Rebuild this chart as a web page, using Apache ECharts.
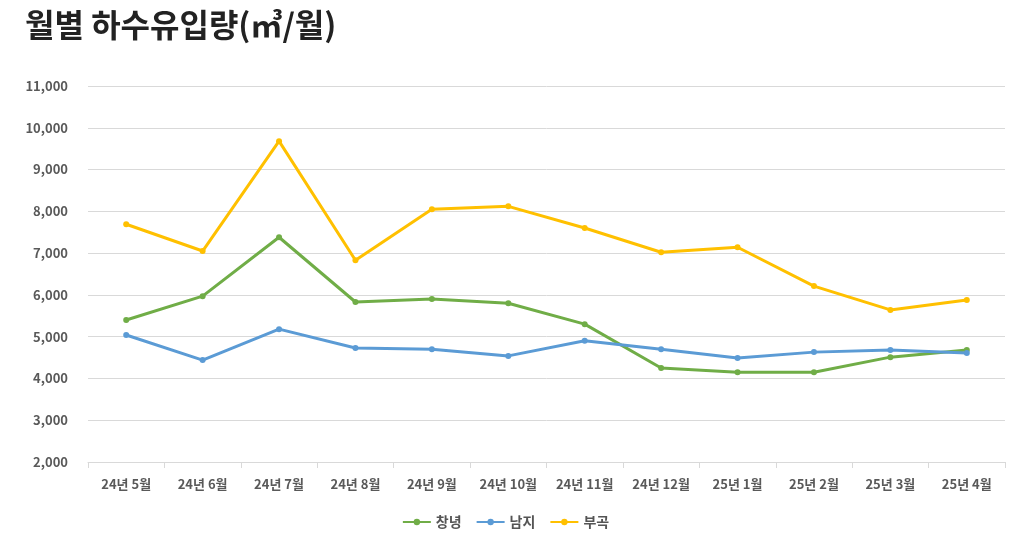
<!DOCTYPE html>
<html><head><meta charset="utf-8">
<script src="https://cdn.jsdelivr.net/npm/echarts@6/dist/echarts.min.js"></script>
<style>body{margin:0}#main{width:1011px;height:546px}</style>
</head><body><div id="main"></div>
<script>
var months = ['24년 5월','24년 6월','24년 7월','24년 8월','24년 9월','24년 10월','24년 11월','24년 12월','25년 1월','25년 2월','25년 3월','25년 4월'];
var changnyeong = [5400, 5970, 7380, 5830, 5900, 5800, 5300, 4250, 4150, 4150, 4510, 4680];
var namji = [5040, 4440, 5180, 4730, 4700, 4540, 4900, 4700, 4490, 4630, 4680, 4610];
var bugok = [7690, 7050, 9680, 6830, 8050, 8120, 7600, 7020, 7140, 6210, 5640, 5880];

var myChart = echarts.init(document.getElementById('main'));
var font = 'Noto Sans CJK KR';
function line(name, data, color) {
    return {
        name: name, type: 'line', data: data, symbol: 'circle', symbolSize: 6,
        lineStyle: {color: color, width: 3}, itemStyle: {color: color}
    };
}
var option = {
    textStyle: {fontFamily: font},
    title: {
        text: '월별 하수유입량(㎥/월)', left: 20, top: 4,
        textStyle: {fontSize: 32, fontWeight: 'bold', color: '#222', fontFamily: font}
    },
    legend: {
        bottom: 12, itemWidth: 28, itemHeight: 8, itemGap: 14,
        textStyle: {fontSize: 14, color: '#555', fontWeight: 'bold'},
        data: ['창녕', '남지', '부곡']
    },
    grid: {left: 88, right: 6, top: 86, bottom: 84},
    xAxis: {
        type: 'category', data: months,
        axisLine: {lineStyle: {color: '#d9d9d9'}},
        axisTick: {show: true, length: 6, lineStyle: {color: '#d9d9d9'}},
        axisLabel: {color: '#595959', fontSize: 13, fontWeight: 'bold', margin: 16}
    },
    yAxis: {
        type: 'value', min: 2000, max: 11000, interval: 1000,
        axisLine: {show: false}, axisTick: {show: false},
        splitLine: {lineStyle: {color: '#d9d9d9'}},
        axisLabel: {
            color: '#595959', fontSize: 13, fontWeight: 'bold', margin: 20,
            formatter: function (v) { return v.toLocaleString('en-US'); }
        }
    },
    series: [
        line('창녕', changnyeong, '#70ad47'),
        line('남지', namji, '#5b9bd5'),
        line('부곡', bugok, '#ffc000')
    ]
};
myChart.setOption(option);
</script></body></html>
